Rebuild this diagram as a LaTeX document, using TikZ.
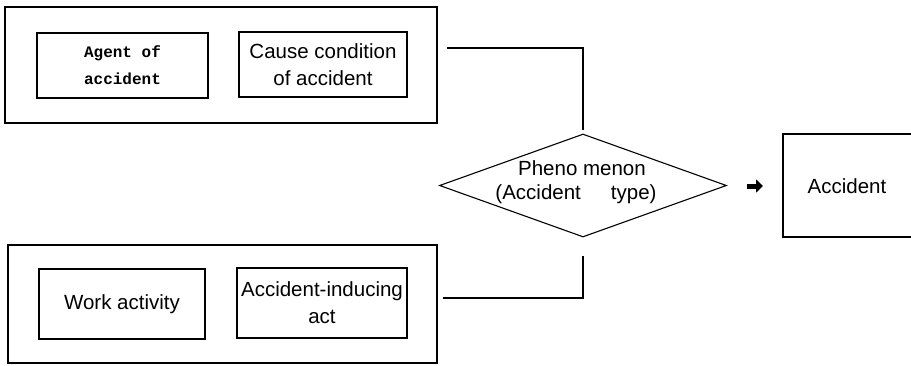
\documentclass[tikz,border=0pt]{standalone}
\usepackage{fontspec}
\setmainfont{Liberation Sans}
\newfontfamily\cour{Liberation Mono}
\usetikzlibrary{shapes.geometric,arrows.meta}
\begin{document}
\begin{tikzpicture}[x=1pt,y=-1pt,
  box/.style={draw,line width=1.1pt,inner sep=0pt},
  lbl/.style={font=\fontsize{20.5}{27}\selectfont,align=center},
  lnk/.style={line width=1.3pt}]
\useasboundingbox (0,0) rectangle (911,365);
% top group
\draw[box] (5,7) rectangle (437,123);
\node[box,minimum width=171pt,minimum height=65pt] (agent) at (122.5,65.5) {};
\node[lbl,font=\cour\bfseries\fontsize{16}{27}\selectfont] at (agent) {Agent of\\accident};
\node[box,minimum width=168pt,minimum height=65pt] (cause) at (323,64.5) {};
\node[lbl] at (cause) {Cause condition\\of accident};
% bottom group
\draw[box] (8,245) rectangle (437,363);
\node[box,minimum width=166pt,minimum height=70pt] (work) at (122,304) {};
\node[lbl] at (work) {Work activity};
\node[box,minimum width=170pt,minimum height=70pt] (act) at (322,303) {};
\node[lbl] at (act) {Accident-inducing\\act};
% diamond
\node[diamond,draw,line width=1.1pt,aspect=2.8,minimum width=287pt,minimum height=103pt,inner sep=0pt] (ph) at (583,185.5) {};
\node[lbl] at (582,168) {Pheno menon};
\node[lbl] at (576,194) {(Accident\hspace{30pt}type)};
% connectors
\coordinate (t0) at (447,48);
\coordinate (t1) at (583,48);
\coordinate (t2) at (583,130);
\draw[lnk] (t0) -- (t1) -- (t2);
\coordinate (b0) at (443,298);
\coordinate (b1) at (583,298);
\coordinate (b2) at (583,256);
\draw[lnk] (b0) -- (b1) -- (b2);
% arrow
\coordinate (a0) at (747,186);
\coordinate (a1) at (763,186);
\draw[line width=5pt,-{Triangle[length=7pt,width=13pt]}] (a0) -- (a1);
% accident box
\draw[line width=1.2pt] (911,134) -- (783,134) -- (783,237) -- (911,237);
\draw[line width=2.2pt] (783,134) -- (783,237);
\node[lbl] (acc) at (847,186) {Accident};
\end{tikzpicture}
\end{document}
